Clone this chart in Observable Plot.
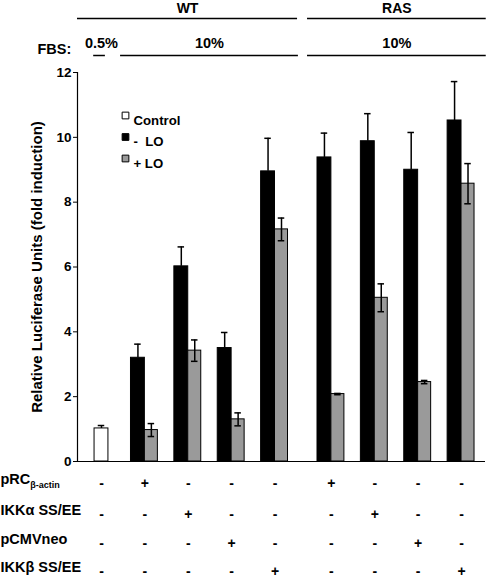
<!DOCTYPE html>
<html>
<head>
<meta charset="utf-8">
<script src="https://cdn.jsdelivr.net/npm/d3@7"></script>
<script src="https://cdn.jsdelivr.net/npm/@observablehq/plot@0.6"></script>
<style>
  html, body { margin: 0; padding: 0; background: white; }
  #chart { width: 486px; height: 580px; }
</style>
</head>
<body>
<div id="chart"></div>
<script>
// ---- Data ----
const cellLine   = ["WT", "WT", "WT", "WT", "WT", "RAS", "RAS", "RAS", "RAS"];
const fbsLevel   = ["0.5%", "10%", "10%", "10%", "10%", "10%", "10%", "10%", "10%"];
const controlVal = [1.02, null, null, null, null, null, null, null, null];
const controlErr = [0.09, null, null, null, null, null, null, null, null];
const minusLOVal = [null, 3.2, 6.02, 3.5, 8.95, 9.38, 9.88, 9.0, 10.52];
const minusLOErr = [null, 0.42, 0.6, 0.48, 1.02, 0.75, 0.85, 1.15, 1.2];
const plusLOVal  = [null, 0.97, 3.42, 1.3, 7.16, 2.08, 5.05, 2.45, 8.57];
const plusLOErr  = [null, 0.2, 0.33, 0.2, 0.35, 0.02, 0.43, 0.05, 0.62];
const rowLabels  = ["pRCβ-actin", "IKKα SS/EE", "pCMVneo", "IKKβ SS/EE"];
const rowSigns   = [
  ["-", "+", "-", "-", "-", "+", "-", "-", "-"],
  ["-", "-", "+", "-", "-", "-", "+", "-", "-"],
  ["-", "-", "-", "+", "-", "-", "-", "+", "-"],
  ["-", "-", "-", "-", "+", "-", "-", "-", "+"]
];
const seriesNames = ["Control", "- LO", "+ LO"];
const seriesColors = ["white", "black", "#9a9a9a"];
const yTicks = [0, 2, 4, 6, 8, 10, 12];
const yLabel = "Relative Luciferase Units (fold induction)";

// ---- Layout helpers ----
const groupGap = 0.3;
const colPos = cellLine.map((c, i) => i + (c === "RAS" ? groupGap : 0));
const xDomain = [-0.553, 8.853];

const bars = [];
colPos.forEach((c, i) => {
  if (controlVal[i] != null) bars.push({series: "Control", value: controlVal[i], err: controlErr[i], x1: c - 0.16, x2: c + 0.16});
  if (minusLOVal[i] != null) bars.push({series: "- LO", value: minusLOVal[i], err: minusLOErr[i], x1: c - 0.32, x2: c});
  if (plusLOVal[i] != null) bars.push({series: "+ LO", value: plusLOVal[i], err: plusLOErr[i], x1: c, x2: c + 0.3});
});
bars.forEach(d => d.cx = (d.x1 + d.x2) / 2);

// header segments: consecutive columns sharing a key
function segments(keys, padFor) {
  const out = [];
  keys.forEach((k, i) => {
    const last = out[out.length - 1];
    if (last && last.key === k && last.cell === cellLine[i]) { last.cols.push(colPos[i]); }
    else out.push({key: k, cell: cellLine[i], cols: [colPos[i]]});
  });
  out.forEach(s => {
    const pad = padFor(s);
    s.x1 = d3.min(s.cols) - pad[0];
    s.x2 = d3.max(s.cols) + pad[1];
    s.mid = (s.x1 + s.x2) / 2;
  });
  return out;
}
const cellSegs = segments(cellLine, s => s.key === "WT" ? [0.553, 0.52] : [0.55, 0.57]);
const fbsSegs = segments(fbsLevel, s => s.key === "0.5%" ? [0.18, 0.09] : (s.cell === "WT" ? [0.56, 0.54] : [0.55, 0.57]));
fbsSegs.forEach(s => { if (s.key === "0.5%") s.mid = d3.mean(s.cols); });

const tableCells = [];
rowSigns.forEach((row, r) => row.forEach((s, i) => tableCells.push({row: r, x: colPos[i], sign: s})));

const font = "Liberation Sans, Arial, Helvetica, sans-serif";
const rowDy = [22, 53, 82, 110];

const marks = [
  // bars
  Plot.rectY(bars, {x1: "x1", x2: "x2", y1: 0, y2: "value", fill: "series", stroke: "black", strokeWidth: 1}),
  // error bars
  Plot.ruleX(bars, {x: "cx", y1: d => d.series === "+ LO" ? d.value - d.err : d.value, y2: d => d.value + d.err, stroke: "black", strokeWidth: 1.5}),
  Plot.ruleY(bars, {y: d => d.value + d.err, x1: d => d.cx - 0.075, x2: d => d.cx + 0.075, stroke: "black", strokeWidth: 1.5}),
  Plot.ruleY(bars.filter(d => d.series === "+ LO"), {y: d => d.value - d.err, x1: d => d.cx - 0.075, x2: d => d.cx + 0.075, stroke: "black", strokeWidth: 1.5}),
  // baseline & y axis
  Plot.ruleY([0], {stroke: "black", strokeWidth: 1.2}),
  Plot.ruleX([xDomain[0]], {y1: 0, y2: 12, stroke: "black", strokeWidth: 1.2}),
  Plot.axisY({ticks: yTicks, tickSize: 4, tickPadding: 2, label: null, fontSize: 13.5, fontWeight: "bold", stroke: "black"}),
  Plot.text([yLabel], {frameAnchor: "left", textAnchor: "middle", rotate: -90, dx: -40, fontSize: 15, fontWeight: "bold", fill: "black"}),
  // header: cell line labels and rules
  Plot.text(cellSegs, {x: "mid", y: 12, text: "key", dy: -64, fontSize: 14, fontWeight: "bold", fill: "black"}),
  Plot.ruleY(cellSegs, {y: 12, x1: "x1", x2: "x2", dy: -54, stroke: "black", strokeWidth: 1.5}),
  // header: FBS labels and rules
  Plot.text(["FBS:"], {frameAnchor: "top-left", dx: -40, dy: -29, textAnchor: "start", fontSize: 14.5, fontWeight: "bold", fill: "black"}),
  Plot.text(fbsSegs, {x: "mid", y: 12, text: "key", dy: -29, fontSize: 14.5, fontWeight: "bold", fill: "black"}),
  Plot.ruleY(fbsSegs, {y: 12, x1: "x1", x2: "x2", dy: -17, stroke: "black", strokeWidth: 1.5}),
  // legend
  ...seriesNames.map((name, i) => Plot.dot([name], {frameAnchor: "top-left", dx: 48, dy: 43 + i * 21.5, symbol: "square", r: 3.8, fill: seriesColors[i], stroke: "black", strokeWidth: 1})),
  ...seriesNames.map((name, i) => Plot.text([name === "- LO" ? "-  LO" : name], {frameAnchor: "top-left", dx: 56, dy: 43 + i * 21.5, textAnchor: "start", fontSize: 13.2, fontWeight: "bold", fill: "black"})),
  // bottom table
  ...rowLabels.map((lab, r) => Plot.text([lab], {frameAnchor: "bottom-left", dx: -77, dy: rowDy[r], textAnchor: "start", fontSize: 14.5, fontWeight: "bold", fill: "black"})),
  ...rowDy.map((dy, r) => Plot.text(tableCells.filter(d => d.row === r), {x: "x", y: 0, text: "sign", dy, fontSize: 14, fontWeight: "bold", fill: "black"}))
];

const chart = Plot.plot({
  width: 486,
  height: 580,
  marginLeft: 77,
  marginRight: 1,
  marginTop: 72,
  marginBottom: 119,
  x: {type: "linear", domain: xDomain, axis: null},
  y: {domain: [0, 12], axis: null},
  color: {domain: seriesNames, range: seriesColors},
  style: {fontFamily: font, fontSize: "12px", color: "black", background: "white", overflow: "visible"},
  marks
});

// subscript for pRC β-actin
d3.select(chart).selectAll("text").each(function() {
  if (this.textContent === "pRCβ-actin") {
    const t = d3.select(this);
    t.text(null);
    t.append("tspan").text("pRC");
    t.append("tspan").attr("font-size", 9).attr("dy", 4).text("β-actin");
  }
});

document.getElementById("chart").appendChild(chart);
</script>
</body>
</html>
